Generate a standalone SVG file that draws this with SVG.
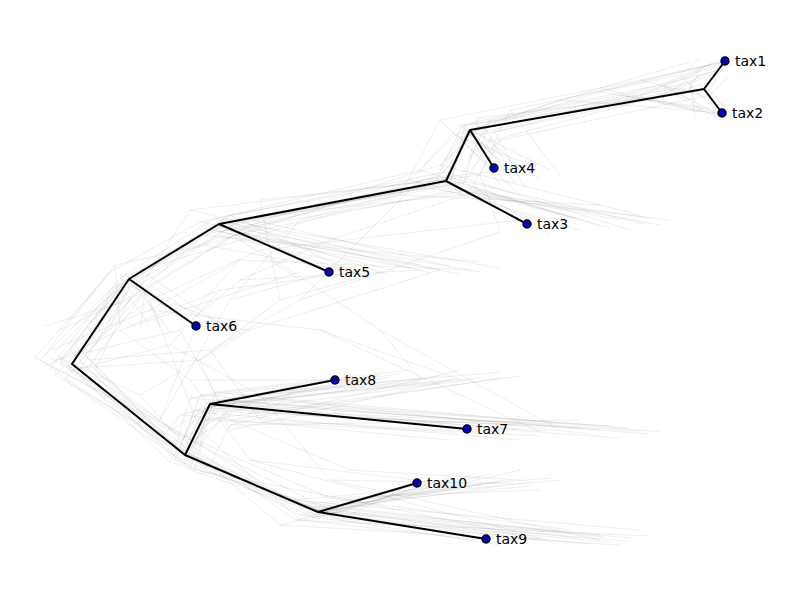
<svg xmlns="http://www.w3.org/2000/svg" width="800" height="600" viewBox="0 0 800 600">
<style>
.cloud path{fill:none;stroke:#777;stroke-opacity:0.18;stroke-width:0.7;stroke-linejoin:round}
.edge{fill:none;stroke:#000;stroke-width:2;stroke-linecap:round;stroke-linejoin:round}
.tip circle{fill:#0000cc;stroke:#000;stroke-width:1.4}
.tip text{font-family:"DejaVu Sans","Liberation Sans",sans-serif;font-size:14px;fill:#000}
</style>
<rect width="800" height="600" fill="#fff"/>
<g id="cloud" class="cloud">
<path d="M60,360 L120,285 L210,230 L430,185 L480,135 L690,90 L700,70 M690,90 L700,110 M480,135 L540,180 M430,185 L620,220 M210,230 L420,265 M120,285 L150,326 M60,360 L190,450 L220,400 L420,378 M220,400 L600,430 M190,450 L300,505 L480,485 M300,505 L600,535"/>
<path d="M80,370 L140,270 L230,215 L420,170 L460,125 L660,85 L720,60 M660,85 L690,100 M460,125 L500,160 M420,170 L560,215 M230,215 L360,275 M140,270 L230,330 M80,370 L175,460 L195,410 L360,382 M195,410 L520,425 M175,460 L330,515 L440,480 M330,515 L540,540"/>
<path d="M45,355 L110,290 L200,235 L470,190 L500,140 L710,95 L730,75 M710,95 L715,120 M500,140 L470,170 M470,190 L660,225 M200,235 L480,262 M110,290 L100,325 M45,355 L200,445 L240,395 L500,372 M240,395 L660,432 M200,445 L290,500 L550,478 M290,500 L640,530"/>
<path d="M70,350 L125,275 L240,240 L400,195 L440,120 L640,80 L710,65 M640,80 L700,95 M440,120 L520,195 M400,195 L600,205 M240,240 L300,280 M125,275 L180,318 M70,350 L160,440 L180,415 L300,385 M180,415 L450,440 M160,440 L340,520 L400,490 M340,520 L500,545"/>
<path d="M55,375 L135,295 L190,210 L480,175 L510,110 L680,75 L700,58 M680,75 L710,105 M510,110 L560,175 M480,175 L500,230 M190,210 L440,270 M135,295 L60,330 M55,375 L210,465 L230,425 L460,370 M230,425 L580,420 M210,465 L280,525 L520,470 M280,525 L620,545"/>
<path d="M90,365 L150,285 L250,225 L440,165 L490,120 L620,95 L720,70 M620,95 L720,115 M490,120 L480,150 M440,165 L640,215 M250,225 L500,268 M150,285 L210,325 M90,365 L180,450 L200,395 L380,375 M200,395 L630,428 M180,450 L310,510 L460,488 M310,510 L580,538"/>
<path d="M40,360 L115,265 L205,245 L410,180 L455,135 L600,88 L690,62 M600,88 L700,112 M455,135 L530,165 M410,180 L580,230 M205,245 L340,270 M115,265 L120,326 M40,360 L170,430 L215,405 L440,383 M215,405 L500,432 M170,430 L320,505 L500,482 M320,505 L560,532"/>
<path d="M65,380 L130,300 L220,220 L460,195 L475,145 L700,85 L725,60 M700,85 L722,113 M475,145 L500,185 M460,195 L670,220 M220,220 L390,275 M130,300 L45,326 M65,380 L195,470 L205,420 L520,376 M205,420 L540,436 M195,470 L350,500 L560,480 M350,500 L520,535"/>
<path d="M75,345 L140,280 L225,230 L450,185 L465,125 L650,100 L715,70 M650,100 L710,108 M465,125 L490,160 M450,185 L540,222 M225,230 L460,274 M140,280 L160,328 M75,345 L185,455 L225,400 L330,380 M225,400 L610,426 M185,455 L300,515 L420,484 M300,515 L610,542"/>
<path d="M50,368 L120,278 L215,218 L435,178 L470,130 L560,100 L725,61 M560,100 L722,113 M470,130 L550,170 M435,178 L610,228 M215,218 L329,272 M120,278 L196,326 M50,368 L190,460 L210,404 L480,378 M210,404 L467,429 M190,460 L325,512 L417,483 M325,512 L486,539"/>
<path d="M85,355 L145,290 L235,235 L455,190 L485,128 L670,92 L705,66 M670,92 L718,118 M485,128 L510,172 M455,190 L650,218 M235,235 L410,268 M145,290 L140,330 M85,355 L175,448 L190,398 L400,374 M190,398 L650,434 M175,448 L305,508 L530,486 M305,508 L630,538"/>
<path d="M60,362 L125,282 L210,228 L425,188 L460,138 L690,82 L722,62 M690,82 L695,118 M460,138 L495,175 M425,188 L590,212 M210,228 L370,278 M125,282 L90,324 M60,362 L180,458 L205,408 L345,386 M205,408 L560,424 M180,458 L315,518 L450,478 M315,518 L590,544"/>
<path d="M35,358 L110,272 L200,222 L445,172 L478,118 L710,90 L728,58 M710,90 L725,108 M478,118 L470,158 M445,172 L630,230 M200,222 L480,272 M110,272 L70,320 M35,358 L195,440 L235,410 L470,380 M235,410 L620,438 M195,440 L330,498 L540,490 M330,498 L570,530"/>
<path d="M95,370 L135,288 L245,218 L465,182 L495,132 L640,96 L712,64 M640,96 L705,112 M495,132 L525,188 M465,182 L550,235 M245,218 L450,266 M135,288 L220,322 M95,370 L200,452 L215,392 L410,370 M215,392 L590,434 M200,452 L295,520 L470,476 M295,520 L650,536"/>
<path d="M55,352 L128,276 L222,236 L438,176 L462,126 L680,88 L735,64 M680,88 L725,104 M462,126 L505,166 M438,176 L600,226 M222,236 L350,264 M128,276 L170,332 M55,352 L170,462 L198,412 L440,376 M198,412 L520,440 M170,462 L335,510 L490,474 M335,510 L550,540"/>
<path d="M68,366 L132,281 L216,226 L442,184 L472,131 L600,92 L718,63 M600,92 L716,111 M472,131 L515,182 M442,184 L575,218 M216,226 L395,271 M132,281 L110,327 M68,366 L188,457 L212,406 L455,379 M212,406 L545,431 M188,457 L320,511 L500,486 M320,511 L605,537"/>
<path d="M78,360 L126,283 L228,222 L452,178 L466,133 L665,86 L727,60 M665,86 L719,115 M466,133 L535,176 M452,178 L645,224 M228,222 L430,273 M126,283 L75,326 M78,360 L182,452 L208,402 L390,377 M208,402 L640,431 M182,452 L312,514 L505,480 M312,514 L625,541"/>
<path d="M70,362 L160,420 L196,326 M160,420 L230,300 L329,272 M230,300 L300,220 L446,181 L470,130 L705,89 M70,362 L190,470 L210,404 L335,380 M210,404 L467,429 M190,470 L318,512 L486,539"/>
<path d="M60,358 L140,395 L250,330 L440,270 M250,330 L200,326 M140,395 L180,440 L240,405 L360,378 M240,405 L520,430"/>
<path d="M80,368 L200,360 L280,300 L380,272 M280,300 L260,200 L440,180 M200,360 L230,430 L300,415 L450,380 M300,415 L580,428"/>
<path d="M50,350 L150,310 L320,330 L460,380 M320,330 L540,432 M150,310 L240,260 L470,270 M240,260 L180,326"/>
<path d="M65,372 L170,345 L260,395 L330,480 L520,484 M330,480 L600,540 M260,395 L420,382 M170,345 L220,290 L360,272 M220,290 L130,326"/>
<path d="M90,360 L210,350 L300,300 L500,232 M300,300 L420,180 L520,168 M210,350 L260,420 L480,432 M260,420 L300,385"/>
<path d="M45,366 L120,330 L190,380 L250,460 L430,482 M250,460 L540,538 M190,380 L380,380 M120,330 L300,272"/>
<path d="M75,355 L150,300 L260,250 L380,330 L560,430 M380,330 L420,378 M260,250 L520,220 M150,300 L200,430 L300,520 L480,540"/>
<path d="M55,360 L180,330 L240,280 L420,270 M240,280 L330,240 L480,190 M180,330 L230,420 L350,470 L520,480 M230,420 L500,378"/>
</g>
<g id="connectors">
<path class="edge" d="M72,364 L129,279 L219,224 L446,181 L470,130 L704,89 L725,61 M704,89 L722,113 M470,130 L494,168 M446,181 L527,224 M219,224 L329,272 M129,279 L196,326 M72,364 L185,455 L210,404 L335,380 M210,404 L467,429 M185,455 L318,512 L417,483 M318,512 L486,539"/>
</g>
<g id="tax1" class="tip"><circle cx="725" cy="61" r="4"/><text x="735" y="66">tax1</text></g>
<g id="tax2" class="tip"><circle cx="722" cy="113" r="4"/><text x="732" y="118">tax2</text></g>
<g id="tax4" class="tip"><circle cx="494" cy="168" r="4"/><text x="504" y="173">tax4</text></g>
<g id="tax3" class="tip"><circle cx="527" cy="224" r="4"/><text x="537" y="229">tax3</text></g>
<g id="tax5" class="tip"><circle cx="329" cy="272" r="4"/><text x="339" y="277">tax5</text></g>
<g id="tax6" class="tip"><circle cx="196" cy="326" r="4"/><text x="206" y="331">tax6</text></g>
<g id="tax8" class="tip"><circle cx="335" cy="380" r="4"/><text x="345" y="385">tax8</text></g>
<g id="tax7" class="tip"><circle cx="467" cy="429" r="4"/><text x="477" y="434">tax7</text></g>
<g id="tax10" class="tip"><circle cx="417" cy="483" r="4"/><text x="427" y="488">tax10</text></g>
<g id="tax9" class="tip"><circle cx="486" cy="539" r="4"/><text x="496" y="544">tax9</text></g>
</svg>
